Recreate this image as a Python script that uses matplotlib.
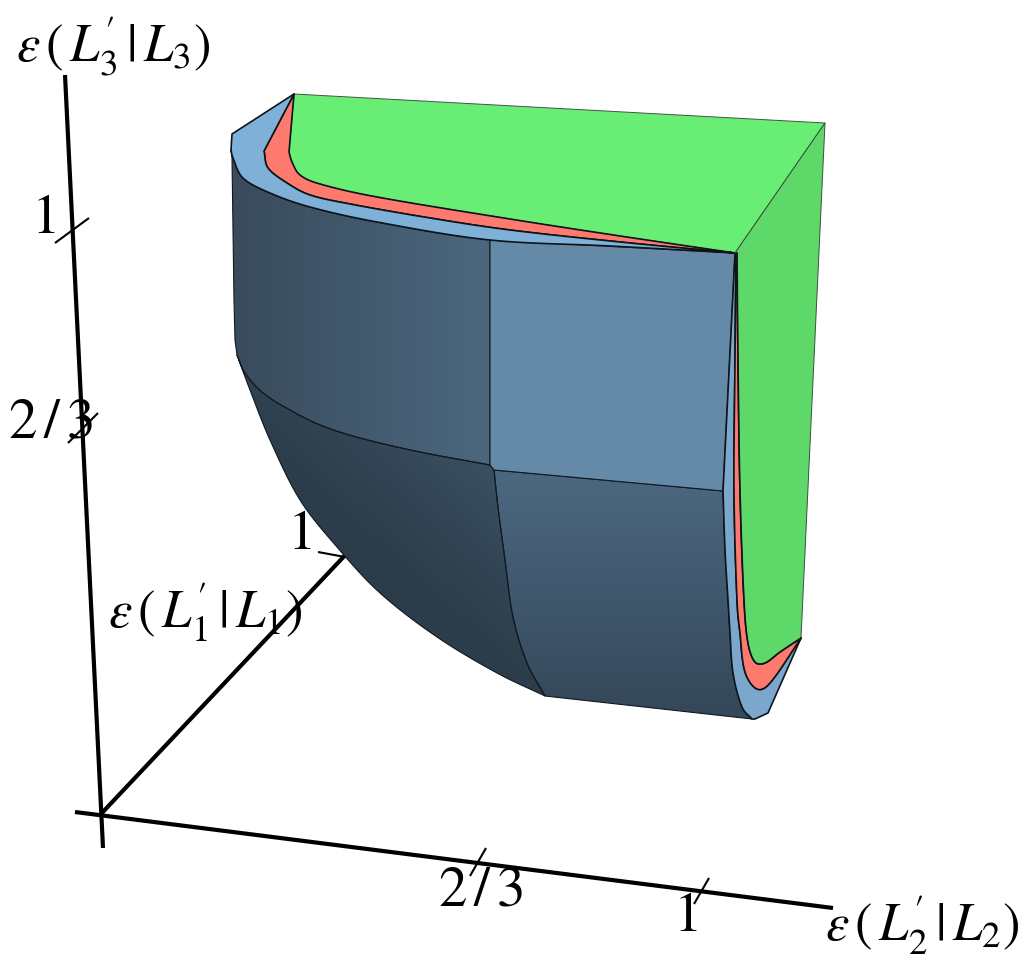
import numpy as np
import matplotlib
matplotlib.use("Agg")
import matplotlib.pyplot as plt
from matplotlib.patches import Polygon
from matplotlib.colors import to_rgb

plt.rcParams['mathtext.fontset'] = 'stix'
plt.rcParams['font.family'] = ['Liberation Serif', 'DejaVu Serif']

# Region outlines, in picture pixels
apex = [(294, 94)]
far_right = [(825, 123)]
front_corner = [(735, 253)]
blue_left_top = [(232, 134)]
blue_red_top = [(264,151),(268,168),(287,183),(310,195),(350,204),(430,218),(510,230),(620,242),(735,253)]
red_green_top = [(289,152),(292,162),(300,175),(320,184),(377,197),(510,219),(620,236),(735,253)]
top_outer = [(231,150),(233,158),(243,178),(270,193),(310,207),(377,222),(490,240),(610,246),(735,253)]
green_curve = [(801,638),(780,652),(765,663),(755,662),(748,643),(744,600),(740,491),(738,360),(737,253)]
red_outer_right = [(801,638),(770,683),(757,689),(745,672),(740,633),(737,600),(734,491),(735,360),(736,253)]
blue_tip = [(801,638),(768,713),(755,719)]
face_right_edge = [(752,719),(742,707),(733,673),(730,633),(728,600),(725,550),(723,491)]
face_right_top = [(723,491),(729,372),(735,253)]
face_left_curve = [(494,470),(498,507),(505,560),(513,617),(527,663),(545,696)]
face_seam = [(237,355),(245,373),(263,393),(290,410),(320,425),(360,438),(420,452),(490,465)]
face_outer = [(237,355),(250,390),(270,440),(300,500),(337,547),(380,593),(437,637),(497,673),(545,696)]
face_left_edge = [(232,158),(234,300),(235,340),(237,355)]
face_mid_corners = [(490,240),(735,253),(723,491),(494,470),(490,465)]

# Axis lines and tick marks
axis_vertical = [(65,75),(103,848)]
axis_bottom = [(75,812),(833,908)]
axis_depth = [(100,815),(350,550)]
ticks = [[(55,243),(89,218)],[(68,443),(98,413)],[(470,876),(486,848)],[(694,904),(709,878)],[(318,552),(345,557)]]

# Labels
label_x = r'$\varepsilon\,(\,L^{\prime}_{2}\,|\,L_{2})$'
label_y = r'$\varepsilon\,(\,L^{\prime}_{1}\,|\,L_{1})$'
label_z = r'$\varepsilon\,(\,L^{\prime}_{3}\,|\,L_{3})$'
tick_one = r'$1$'
tick_two_thirds = r'$2\,/\,3$'

fig = plt.figure(figsize=(10.24, 9.66), dpi=100)
ax = fig.add_axes([0, 0, 1, 1])
ax.set_xlim(0, 1024)
ax.set_ylim(966, 0)
ax.axis('off')


def smooth(pts, n=14):
    """Round an outline through its read points (Hermite spline on sqrt chord length)."""
    p = np.array(pts, float)
    if len(p) < 3:
        return p
    t = np.concatenate([[0], np.cumsum(np.linalg.norm(np.diff(p, axis=0), axis=1) ** 0.5)])
    m = np.zeros_like(p)
    m[1:-1] = (p[2:] - p[:-2]) / (t[2:] - t[:-2])[:, None]
    m[0] = (p[1] - p[0]) / (t[1] - t[0])
    m[-1] = (p[-1] - p[-2]) / (t[-1] - t[-2])
    out = []
    for i in range(len(p) - 1):
        h = t[i + 1] - t[i]
        for s in np.linspace(0, 1, n, endpoint=False):
            out.append((2*s**3-3*s**2+1)*p[i] + (s**3-2*s**2+s)*h*m[i]
                       + (-2*s**3+3*s**2)*p[i+1] + (s**3-s**2)*h*m[i+1])
    out.append(p[-1])
    return np.array(out)


def flat(poly, color, z, ec='#111820', lw=1.0):
    ax.add_patch(Polygon(poly, closed=True, fc=color, ec=ec, lw=lw, zorder=z, joinstyle='round'))


def shaded(poly, start, end, c0, c1, z, ec='#10181f', lw=0.8):
    xs = np.arange(0, 1024, 2.0)
    ys = np.arange(0, 966, 2.0)
    X, Y = np.meshgrid(xs, ys)
    s, e = np.array(start, float), np.array(end, float)
    d = e - s
    u = np.clip(((X-s[0])*d[0] + (Y-s[1])*d[1]) / (d @ d), 0, 1)[..., None]
    img = (1-u)*np.array(to_rgb(c0)) + u*np.array(to_rgb(c1))
    im = ax.imshow(img, extent=(0, 1024, 966, 0), zorder=z, aspect='auto', interpolation='bilinear')
    patch = Polygon(poly, closed=True, fc='none', ec=ec, lw=lw, zorder=z+0.1, joinstyle='round')
    ax.add_patch(patch)
    im.set_clip_path(patch)


# Axes under the solid
for seg in (axis_vertical, axis_bottom, axis_depth):
    a = np.array(seg)
    ax.plot(a[:, 0], a[:, 1], color='black', lw=3.0, zorder=6.5, solid_capstyle='butt')
for seg in ticks:
    a = np.array(seg)
    ax.plot(a[:, 0], a[:, 1], color='black', lw=1.5, zorder=6.5, solid_capstyle='butt')

# Dark faces of the solid (drawn over the far end of the depth axis)
outer = smooth(top_outer)
left_curve = smooth(face_left_curve)
seam = smooth(face_seam)
right_edge = smooth(face_right_edge)
upper_left = np.vstack([np.array(face_left_edge), seam, outer[outer[:, 0] <= 490][::-1]])
shaded(upper_left, (235,300), (490,300), '#394b5c', '#4c687f', 7)
lower_left = np.vstack([smooth(face_outer), left_curve[::-1], seam[::-1]])
shaded(lower_left, (390,560), (490,450), '#2c3c4a', '#3b5163', 7)
lower_right = np.vstack([left_curve, right_edge])
shaded(lower_right, (600,480), (600,710), '#4b677f', '#35485a', 7)
flat(face_mid_corners, '#648aa8', 7.2, lw=0.8)

# Coloured caps
green_top = np.vstack([apex, far_right, front_corner, smooth(red_green_top)[::-1]])
flat(green_top, '#68ee74', 8, lw=0.7, ec='#44524a')
red_top = np.vstack([apex, smooth(blue_red_top), smooth(red_green_top)[::-1]])
flat(red_top, '#ff7a6e', 8.1, lw=1.2, ec='#0e1418')
blue_top = np.vstack([blue_left_top, apex, smooth(blue_red_top), outer[::-1]])
flat(blue_top, '#7fb0d8', 8.2, lw=1.2, ec='#0e1418')
blue_right = np.vstack([blue_tip, right_edge, face_right_top, smooth(red_outer_right)[::-1]])
flat(blue_right, '#7aa7cb', 8.3, lw=1.2, ec='#0e1418')
red_right = np.vstack([smooth(red_outer_right), smooth(green_curve)[::-1]])
flat(red_right, '#ff7a6e', 8.4, lw=1.2, ec='#0e1418')
green_right = np.vstack([front_corner, far_right, smooth(green_curve)])
flat(green_right, '#5dd869', 8.5, lw=0.7, ec='#39503f')
a = smooth(green_curve)
ax.plot(a[:, 0], a[:, 1], color='#0e1418', lw=1.2, zorder=8.6)

# Text
fs = 38
tick_fs = 41
ax.text(113, 46, label_z, fontsize=fs, ha='center', va='center', zorder=6)
ax.text(205, 612, label_y, fontsize=fs, ha='center', va='center', zorder=6)
ax.text(922, 925, label_x, fontsize=fs, ha='center', va='center', zorder=6)
ax.text(43, 219, tick_one, fontsize=tick_fs, ha='center', va='center', zorder=6)
ax.text(50, 423, tick_two_thirds, fontsize=tick_fs, ha='center', va='center', zorder=6)
ax.text(299, 535, tick_one, fontsize=tick_fs, ha='center', va='center', zorder=6)
ax.text(480, 891, tick_two_thirds, fontsize=tick_fs, ha='center', va='center', zorder=6)
ax.text(685, 917, tick_one, fontsize=tick_fs, ha='center', va='center', zorder=6)

fig.savefig('out.png', dpi=100, facecolor='white')
